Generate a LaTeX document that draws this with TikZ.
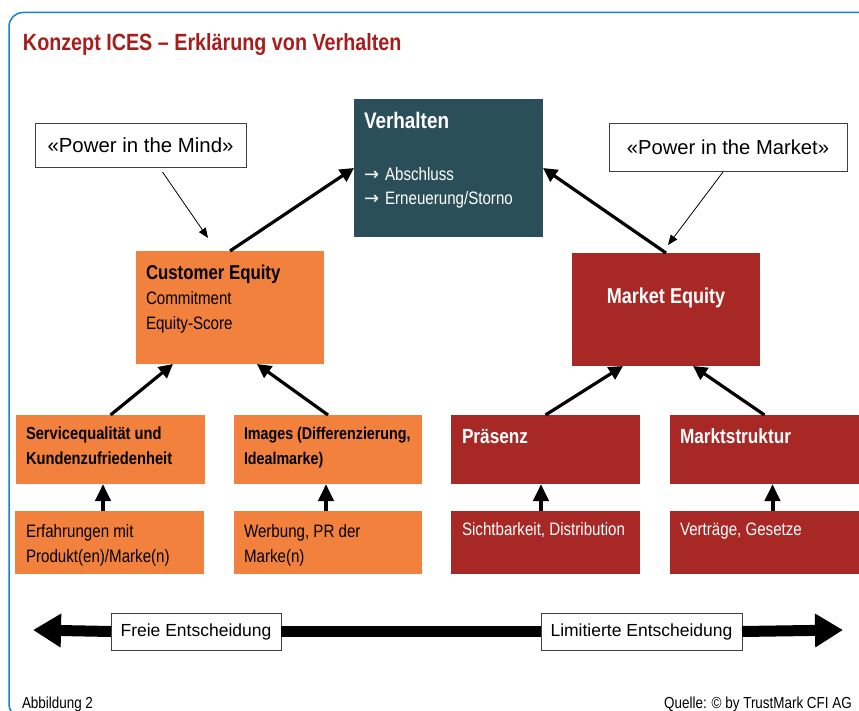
\documentclass[tikz,border=0pt]{standalone}
\usepackage{fontspec}
\setmainfont{Liberation Sans}
\newfontfamily\cond{Liberation Sans}[FakeStretch=0.84]
\newfontfamily\arrowfont{DejaVu Sans}
\usetikzlibrary{arrows.meta}

\definecolor{titlered}{HTML}{A61E1B}
\definecolor{boxred}{HTML}{A82825}
\definecolor{boxorange}{HTML}{F3813E}
\definecolor{boxteal}{HTML}{2B4F59}
\definecolor{frameblue}{HTML}{1580D0}

\newcommand{\bulletarrow}{{\arrowfont\fontsize{18}{24}\selectfont →}\hspace{6pt}}

\tikzset{
  panel/.style={rectangle, inner sep=0pt, outer sep=0pt, anchor=north west, draw=none},
  tealbox/.style={panel, fill=boxteal},
  orangebox/.style={panel, fill=boxorange},
  redbox/.style={panel, fill=boxred},
  labelbox/.style={rectangle, inner sep=0pt, outer sep=0pt, anchor=north west,
    draw=black!75, line width=0.8pt, fill=white},
  % multi-line texts are placed by the baseline of their last line
  txt/.style={inner sep=0pt, outer sep=0pt, anchor=base west, align=left},
  bodyfont/.style={font=\cond\fontsize{18}{25}\selectfont},
  headfont/.style={font=\cond\bfseries\fontsize{20.5}{25}\selectfont},
  thinarrow/.style={line width=0.8pt, -{Triangle[length=10pt,width=8pt]}},
  thickarrow/.style={line width=3.2pt, -{Triangle[length=14pt,width=14pt]}},
  uparrow/.style={line width=4pt, -{Triangle[length=17pt,width=15pt]}},
  bar/.style={line width=11pt},
  leftbar/.style={bar, arrows={Triangle[length=28pt,width=32pt]-}},
  rightbar/.style={bar, arrows={-Triangle[length=28pt,width=32pt]}},
}

\begin{document}
\begin{tikzpicture}[x=1pt,y=-1pt]
\useasboundingbox (0,0) rectangle (859,711);

% outer frame (top and left edges, rounded corners; y axis points down)
\draw[frameblue, line width=1.5pt]
  (875,12.5) -- (23,12.5) arc[start angle=270, end angle=180, radius=14]
  -- (9,704) arc[start angle=180, end angle=90, radius=14] -- (40,718);

% title
\node[txt, text=titlered, font=\cond\bfseries\fontsize{23.5}{28}\selectfont]
  (title) at (23,51) {Konzept ICES – Erklärung von Verhalten};

% top: behaviour
\node[tealbox, minimum width=189pt, minimum height=138pt] (verh) at (354,99) {};
\node[txt, text=white, font=\cond\bfseries\fontsize{22.5}{27}\selectfont]
  (verh-t) at (364,129) {Verhalten};
\node[txt, text=white, font=\cond\fontsize{18}{24}\selectfont]
  (verh-l) at (364,205) {\bulletarrow Abschluss\\\bulletarrow Erneuerung/Storno};

% power labels
\node[labelbox, minimum width=211pt, minimum height=44pt] (mind) at (35,123) {};
\node[font=\fontsize{20.4}{24}\selectfont, inner sep=0pt] (mind-t) at (mind.center) {«Power in the Mind»};
\node[labelbox, minimum width=238pt, minimum height=48pt] (market) at (609,123) {};
\node[font=\fontsize{20.2}{24}\selectfont, inner sep=0pt] (market-t) at (market.center) {«Power in the Market»};

% equity boxes
\node[orangebox, minimum width=188pt, minimum height=113pt] (ce) at (136,251) {};
\node[txt, bodyfont] (ce-t) at (146,329)
  {{\bfseries\fontsize{20}{25}\selectfont Customer Equity}\\Commitment\\Equity-Score};
\node[redbox, minimum width=188pt, minimum height=113pt] (me) at (572,253) {};
\node[text=white, font=\cond\bfseries\fontsize{21.5}{25}\selectfont, inner sep=0pt, anchor=base]
  (me-t) at (666,303) {Market Equity};

% driver boxes
\node[orangebox, minimum width=189pt, minimum height=69pt] (serv) at (16,415) {};
\node[txt, font=\cond\bfseries\fontsize{17.5}{25}\selectfont] (serv-t) at (26,464)
  {Servicequalität und\\Kundenzufriedenheit};
\node[orangebox, minimum width=188pt, minimum height=69pt] (img) at (234,415) {};
\node[txt, font=\cond\bfseries\fontsize{17}{25}\selectfont] (img-t) at (244,464)
  {Images (Differenzierung,\\Idealmarke)};
\node[redbox, minimum width=189pt, minimum height=69pt] (praes) at (451,415) {};
\node[txt, text=white, headfont] (praes-t) at (462,443) {Präsenz};
\node[redbox, minimum width=189pt, minimum height=69pt] (markt) at (670,415) {};
\node[txt, text=white, headfont] (markt-t) at (680,443) {Marktstruktur};

% source boxes
\node[orangebox, minimum width=189pt, minimum height=63pt] (erf) at (15,511) {};
\node[txt, bodyfont] (erf-t) at (26,562) {Erfahrungen mit\\Produkt(en)/Marke(n)};
\node[orangebox, minimum width=188pt, minimum height=63pt] (werb) at (234,511) {};
\node[txt, bodyfont] (werb-t) at (244,562) {Werbung, PR der\\Marke(n)};
\node[redbox, minimum width=189pt, minimum height=63pt] (sicht) at (451,511) {};
\node[txt, text=white, bodyfont] (sicht-t) at (462,535) {Sichtbarkeit, Distribution};
\node[redbox, minimum width=189pt, minimum height=63pt] (vert) at (670,511) {};
\node[txt, text=white, bodyfont] (vert-t) at (680,535) {Verträge, Gesetze};

% connectors
\draw[thickarrow] (ce.north) -- (verh.west);
\draw[thickarrow] (me.north) -- (verh.east);
\draw[thickarrow] (serv.north) -- ([xshift=-57pt]ce.south);
\draw[thickarrow] (img.north) -- ([xshift=27pt]ce.south);
\draw[thickarrow] (praes.north) -- ([xshift=-43pt]me.south);
\draw[thickarrow] (markt.north) -- ([xshift=27pt]me.south);
\draw[uparrow] ([xshift=-6.5pt]erf.north) -- ([xshift=-7.5pt]serv.south);
\draw[uparrow] ([xshift=-2pt]werb.north) -- ([xshift=-2pt]img.south);
\draw[uparrow] ([xshift=-4.5pt]sicht.north) -- ([xshift=-4.5pt]praes.south);
\draw[uparrow] ([xshift=8pt]vert.north) -- ([xshift=8pt]markt.south);
\draw[thinarrow] ([xshift=22pt,yshift=-5pt]mind.south) -- ([xshift=-22pt,yshift=13pt]ce.north);
\draw[thinarrow] ([xshift=-5pt,yshift=-1pt]market.south) -- ([xshift=2pt,yshift=8pt]me.north);

% decision scale
\coordinate (L) at (33,630);
\coordinate (R) at (843,630);
\node[labelbox, minimum width=170pt, minimum height=37pt] (freie) at (111,613) {};
\node[font=\fontsize{17.5}{22}\selectfont, inner sep=0pt] (freie-t) at (freie.center) {Freie Entscheidung};
\node[labelbox, minimum width=201pt, minimum height=37pt] (limit) at (541,613) {};
\node[font=\fontsize{17.5}{22}\selectfont, inner sep=0pt] (limit-t) at (limit.center) {Limitierte Entscheidung};
\draw[leftbar] (L) -- (freie.west);
\draw[bar] (freie.east) -- (limit.west);
\draw[rightbar] (limit.east) -- (R);

% footer
\node[txt, font=\cond\fontsize{16}{20}\selectfont] (fig) at (22,708) {Abbildung 2};
\node[inner sep=0pt, anchor=base east, font=\cond\fontsize{16}{20}\selectfont]
  (src) at (852,708) {Quelle: © by TrustMark CFI AG};
\end{tikzpicture}
\end{document}
